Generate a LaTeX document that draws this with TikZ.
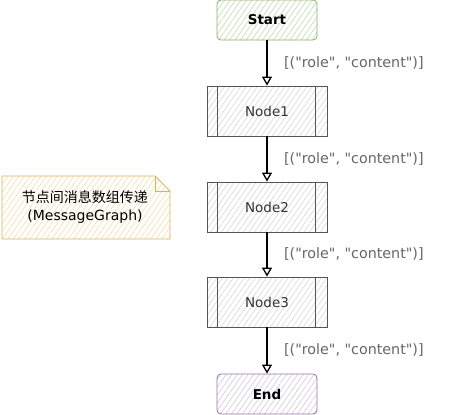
\documentclass[tikz,border=0pt]{standalone}
\usepackage{fontspec}
\setmainfont{DejaVu Sans}[Ligatures=TeXOff]
\newfontfamily\cjk{Noto Sans CJK SC}
\usetikzlibrary{arrows.meta,patterns.meta}

\definecolor{startline}{HTML}{82B366}
\definecolor{starthatch}{HTML}{B5D9A3}
\definecolor{endline}{HTML}{9673A6}
\definecolor{endhatch}{HTML}{D0BEDA}
\definecolor{boxline}{HTML}{555555}
\definecolor{boxhatch}{HTML}{D2D2D2}
\definecolor{noteline}{HTML}{D6B656}
\definecolor{notehatch}{HTML}{F0DC9E}
\definecolor{labeltext}{HTML}{666666}
\definecolor{nodetext}{HTML}{333333}

\tikzset{
  hatch/.style={pattern={Lines[angle=55,distance=4.5pt,line width=0.5pt]},pattern color=#1},
  terminal/.style={rounded corners=4pt,minimum width=100pt,minimum height=40pt,
    font=\fontsize{13.5}{15}\selectfont\bfseries,line width=0.8pt},
  stepbox/.style={draw=boxline,hatch=boxhatch,minimum width=120pt,minimum height=50pt,
    font=\fontsize{13.5}{15}\selectfont,text=nodetext,line width=0.8pt},
  flow/.style={line width=2.2pt,-{Triangle[length=9pt,width=10pt,line width=1.3pt,fill=white]}},
  flowlabel/.style={right,xshift=16pt,inner sep=0pt,text=labeltext,
    font=\fontsize{14.3}{16}\selectfont},
}

\begin{document}
\begin{tikzpicture}[x=1pt,y=-1pt]
    \useasboundingbox (0,0) rectangle (451,415);
    % start and end
    \node[terminal,draw=startline,hatch=starthatch] (start) at (267,20) {Start};
    \node[terminal,draw=endline,hatch=endhatch] (finish) at (267,394) {End};
    % process boxes
    \node[stepbox] (node1) at (267,111) {Node1};
    \node[stepbox] (node2) at (267,207) {Node2};
    \node[stepbox] (node3) at (267,302) {Node3};
    \foreach \n in {node1,node2,node3}
    {
        \draw[boxline,line width=0.8pt] ([xshift=11pt]\n.north west) -- ([xshift=11pt]\n.south west);
        \draw[boxline,line width=0.8pt] ([xshift=-12pt]\n.north east) -- ([xshift=-12pt]\n.south east);
    }
    % messages
    \foreach \a/\b in {start/node1,node1/node2,node2/node3,node3/finish}
    {
        \draw[flow] (\a) -- node[flowlabel] {[("role", "content")]} (\b);
    }
    % note with folded corner
    \draw[noteline,hatch=notehatch,line width=0.8pt] (2,176) -- (155,176) -- (170,191)
        -- (170,239) -- (2,239) -- cycle;
    \draw[noteline,line width=0.8pt] (155,176) -- (155,191) -- (170,191);
    \node[align=center,font=\fontsize{14}{18}\selectfont] (note) at (85,207.5)
          {{\cjk 节点间消息数组传递}\\(MessageGraph)};
\end{tikzpicture}
\end{document}
